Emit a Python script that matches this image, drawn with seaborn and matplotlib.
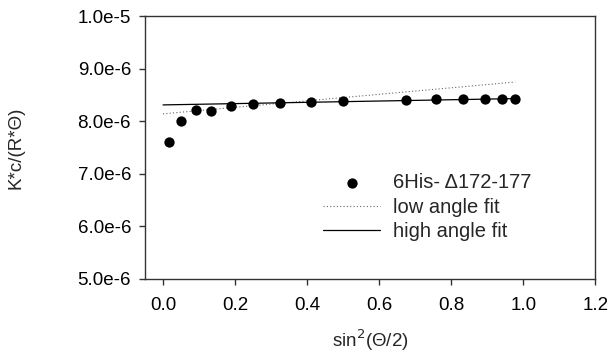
import numpy as np
import pandas as pd
import matplotlib
matplotlib.use('Agg')
import matplotlib.pyplot as plt
import seaborn as sns
from matplotlib.ticker import FuncFormatter

# data
sin2 = [0.017, 0.051, 0.091, 0.133, 0.190, 0.250, 0.324, 0.410, 0.499,
        0.674, 0.757, 0.832, 0.894, 0.941, 0.976]
kc_r = [7.60e-6, 8.01e-6, 8.21e-6, 8.20e-6, 8.28e-6, 8.32e-6, 8.35e-6, 8.37e-6, 8.38e-6,
        8.40e-6, 8.42e-6, 8.42e-6, 8.42e-6, 8.43e-6, 8.43e-6]
low_fit_x = [0.0, 0.977]
low_fit_y = [8.14e-6, 8.745e-6]
high_fit_x = [0.0, 0.977]
high_fit_y = [8.31e-6, 8.43e-6]

sns.set_style('ticks')
plt.rcParams['font.family'] = ['Liberation Sans', 'DejaVu Sans']
plt.rcParams['axes.linewidth'] = 1.0

fig = plt.figure(figsize=(6.16, 3.56), dpi=100)
ax = fig.add_axes([0.2354, 0.2163, 0.7313, 0.7387])

df = pd.DataFrame({'x': sin2, 'y': kc_r})
sns.scatterplot(data=df, x='x', y='y', ax=ax, color='black', s=55,
                edgecolor='black', linewidth=0, label='6His- \u0394172-177', zorder=3)
sns.lineplot(x=low_fit_x, y=low_fit_y, ax=ax, color='#666666', linestyle=(0, (1, 2)),
             linewidth=0.8, label='low angle fit')
sns.lineplot(x=high_fit_x, y=high_fit_y, ax=ax, color='black', linewidth=0.9,
             label='high angle fit')

ax.set_xlim(-0.05, 1.2)
ax.set_ylim(5.0e-6, 1.0e-5)
ax.set_xticks([0.0, 0.2, 0.4, 0.6, 0.8, 1.0, 1.2])
ax.set_yticks([5e-6, 6e-6, 7e-6, 8e-6, 9e-6, 1e-5])
ax.xaxis.set_major_formatter(FuncFormatter(lambda v, p: f'{v:.1f}'))
ax.yaxis.set_major_formatter(FuncFormatter(lambda v, p: f'{v:.1e}'.replace('e-0', 'e-')))
ax.tick_params(labelsize=13.5, length=4, width=1, colors='#333333', labelcolor='black')
ax.tick_params(axis='y', pad=6)
ax.tick_params(axis='x', pad=9)
for s in ax.spines.values():
    s.set_color('#333333')

ax.set_xlabel('sin$^2$(\u0398/2)', fontsize=13.5, labelpad=10)
ax.set_ylabel('K*c/(R*\u0398)', fontsize=13.5, labelpad=38)

ax.legend(loc='upper left', bbox_to_anchor=(323 / 616, 1 - 173 / 356),
          bbox_transform=fig.transFigure, frameon=False, fontsize=14.5,
          handlelength=2.85, handletextpad=0.65, labelspacing=0.28, borderpad=0,
          borderaxespad=0)

fig.savefig('out.png', dpi=100)
